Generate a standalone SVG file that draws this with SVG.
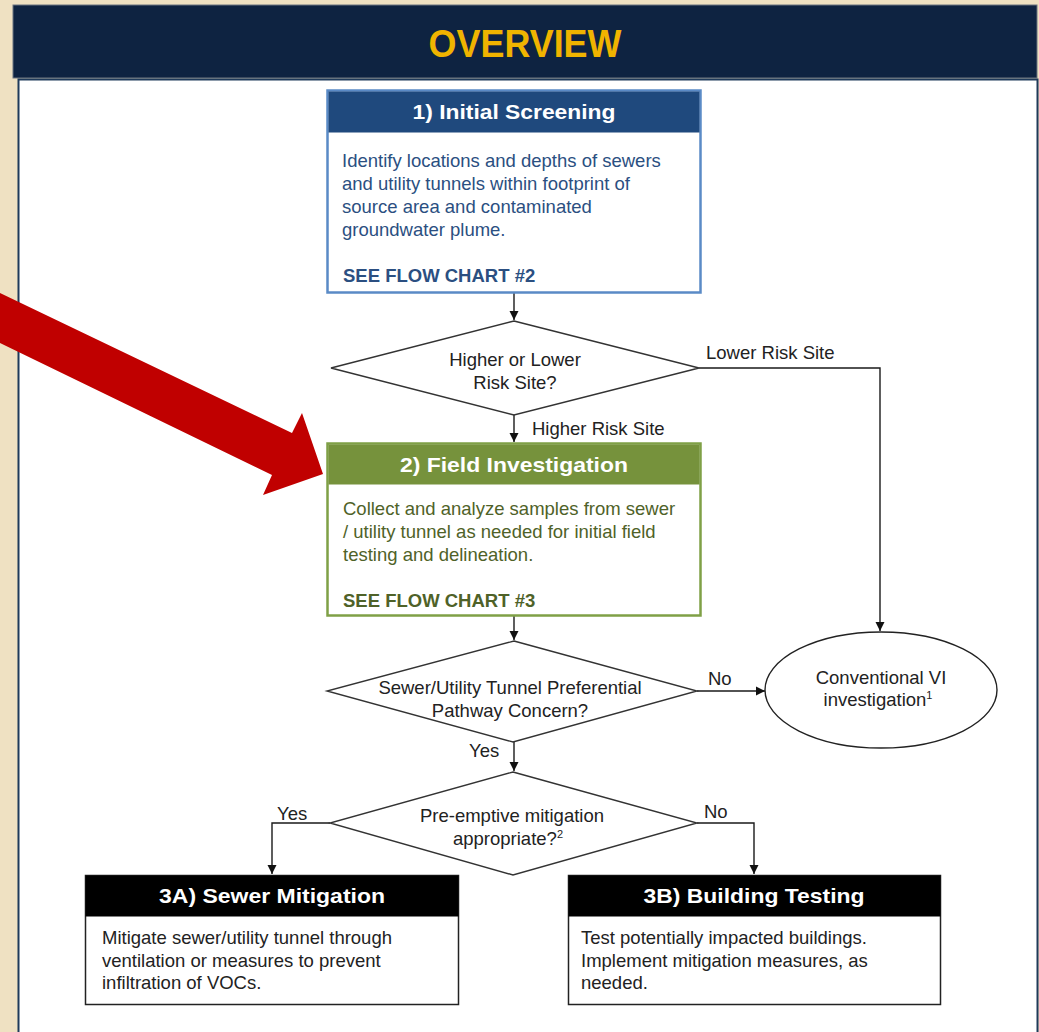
<svg xmlns="http://www.w3.org/2000/svg" width="1039" height="1032" viewBox="0 0 1039 1032">
<defs>
<style>
.t{font-family:"Liberation Sans",Arial,sans-serif;font-size:18.5px;fill:#222}
.c{text-anchor:middle}
.b{font-weight:bold}
.hd{font-family:"Liberation Sans",Arial,sans-serif;font-weight:bold;font-size:21px;fill:#fff;text-anchor:middle}
.ln{fill:none;stroke:#1a1a1a;stroke-width:1.4}
.dm{fill:#fff;stroke:#333;stroke-width:1.4}
</style>
<marker id="ah" markerWidth="10" markerHeight="10" refX="9" refY="5" orient="auto" markerUnits="userSpaceOnUse">
<path d="M0,0.5 L9,5 L0,9.5 Z" fill="#111"/>
</marker>
</defs>
<rect x="0" y="0" width="1039" height="1032" fill="#EFE1C2"/>
<g id="banner">
<rect x="13" y="5" width="1024" height="73" fill="#0E2341" stroke="#6b7480" stroke-width="1"/>
<text x="525" y="57" font-family="'Liberation Sans',Arial,sans-serif" font-weight="bold" font-size="38" fill="#F0B400" text-anchor="middle" textLength="193" lengthAdjust="spacingAndGlyphs">OVERVIEW</text>
</g>
<rect id="panel" x="18.5" y="79.5" width="1019" height="960" fill="#fff" stroke="#1F3A5A" stroke-width="2"/>

<g id="connectors">
<path class="ln" d="M514,293 V320" marker-end="url(#ah)"/>
<path class="ln" d="M514,415 V442" marker-end="url(#ah)"/>
<path class="ln" d="M699,368 H880 V631" marker-end="url(#ah)"/>
<path class="ln" d="M514,616 V640" marker-end="url(#ah)"/>
<path class="ln" d="M697,691 H765" marker-end="url(#ah)"/>
<path class="ln" d="M514,742 V771" marker-end="url(#ah)"/>
<path class="ln" d="M330,823 H272 V874" marker-end="url(#ah)"/>
<path class="ln" d="M697,823 H754 V874" marker-end="url(#ah)"/>
<text class="t" x="706" y="359">Lower Risk Site</text>
<text class="t" x="532" y="435">Higher Risk Site</text>
<text class="t" x="708" y="685">No</text>
<text class="t" x="469" y="757">Yes</text>
<text class="t" x="277" y="820">Yes</text>
<text class="t" x="704" y="818">No</text>
</g>

<g id="node-initial-screening">
<rect x="327.5" y="90.5" width="373" height="202" fill="#fff" stroke="#5A8AC6" stroke-width="2.5"/>
<rect x="328.5" y="91.5" width="371" height="41" fill="#1F497D"/>
<text class="hd" x="514" y="119" textLength="203" lengthAdjust="spacingAndGlyphs">1) Initial Screening</text>
<text class="t" x="342" y="167" fill="#2B4F81" style="fill:#2B4F81">Identify locations and depths of sewers</text>
<text class="t" x="342" y="190" style="fill:#2B4F81">and utility tunnels within footprint of</text>
<text class="t" x="342" y="213" style="fill:#2B4F81">source area and contaminated</text>
<text class="t" x="342" y="236" style="fill:#2B4F81">groundwater plume.</text>
<text class="t b" x="343" y="282" style="fill:#2B4F81">SEE FLOW CHART #2</text>
</g>

<g id="node-decision-risk">
<polygon class="dm" points="514,321 699,368 514,415 331,368"/>
<text class="t c" x="515" y="366">Higher or Lower</text>
<text class="t c" x="515" y="389">Risk Site?</text>
</g>

<g id="node-field-investigation">
<rect x="327.5" y="443.5" width="373" height="172" fill="#fff" stroke="#7FA046" stroke-width="2.5"/>
<rect x="328.5" y="444.5" width="371" height="40" fill="#76923C"/>
<text class="hd" x="514" y="472" textLength="228" lengthAdjust="spacingAndGlyphs">2) Field Investigation</text>
<text class="t" x="343" y="515" style="fill:#4F6228">Collect and analyze samples from sewer</text>
<text class="t" x="343" y="538" style="fill:#4F6228">/ utility tunnel as needed for initial field</text>
<text class="t" x="343" y="561" style="fill:#4F6228">testing and delineation.</text>
<text class="t b" x="343" y="607" style="fill:#4F6228">SEE FLOW CHART #3</text>
</g>

<g id="node-decision-pathway">
<polygon class="dm" points="514,641 697,691 513,742 327,691"/>
<text class="t c" x="510" y="694">Sewer/Utility Tunnel Preferential</text>
<text class="t c" x="510" y="717">Pathway Concern?</text>
</g>

<g id="node-conventional-vi">
<ellipse cx="881" cy="690" rx="116" ry="58" fill="#fff" stroke="#222" stroke-width="1.4"/>
<text class="t c" x="881" y="684">Conventional VI</text>
<text class="t c" x="878" y="706">investigation<tspan font-size="11" dy="-7">1</tspan></text>
</g>

<g id="node-decision-preemptive">
<polygon class="dm" points="513,772 697,823 513,875 330,823"/>
<text class="t c" x="512" y="822">Pre-emptive mitigation</text>
<text class="t c" x="508" y="845">appropriate?<tspan font-size="11" dy="-7">2</tspan></text>
</g>

<g id="node-sewer-mitigation">
<rect x="85.5" y="875.5" width="373" height="129" fill="#fff" stroke="#222" stroke-width="1.5"/>
<rect x="85.5" y="875.5" width="373" height="41" fill="#000"/>
<text class="hd" x="272" y="903" textLength="226" lengthAdjust="spacingAndGlyphs">3A) Sewer Mitigation</text>
<text class="t" x="102" y="944">Mitigate sewer/utility tunnel through</text>
<text class="t" x="102" y="967">ventilation or measures to prevent</text>
<text class="t" x="102" y="989">infiltration of VOCs.</text>
</g>

<g id="node-building-testing">
<rect x="568.5" y="875.5" width="372" height="129" fill="#fff" stroke="#222" stroke-width="1.5"/>
<rect x="568.5" y="875.5" width="372" height="41" fill="#000"/>
<text class="hd" x="754" y="903" textLength="221" lengthAdjust="spacingAndGlyphs">3B) Building Testing</text>
<text class="t" x="581" y="944">Test potentially impacted buildings.</text>
<text class="t" x="581" y="967">Implement mitigation measures, as</text>
<text class="t" x="581" y="989">needed.</text>
</g>

<polygon id="red-arrow" points="0,293 292,433 302,413 323,474 263,495 272,475 0,343" fill="#C00000"/>
</svg>
